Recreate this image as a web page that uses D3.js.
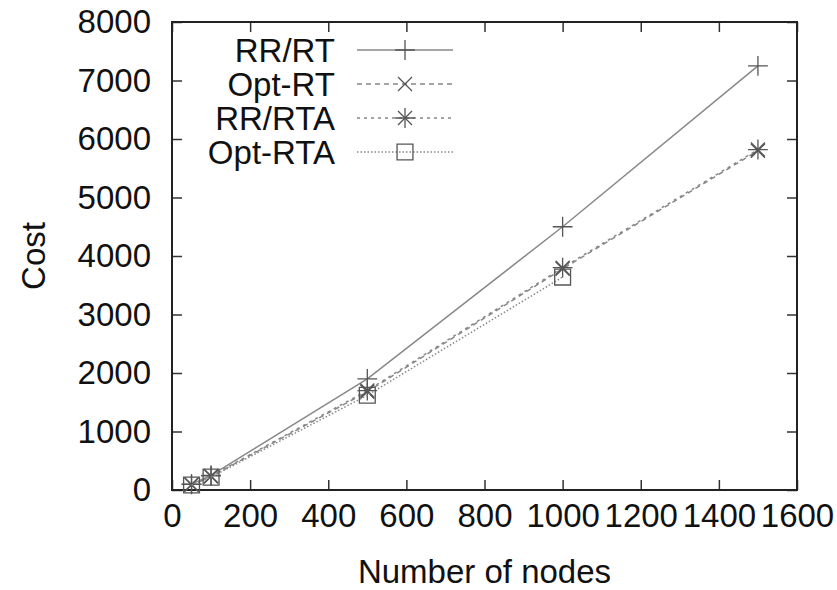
<!DOCTYPE html>
<html>
<head>
<meta charset="utf-8">
<title>Cost vs nodes</title>
<script src="https://cdn.jsdelivr.net/npm/d3@7"></script>
<style>
  body { margin: 0; background: #fff; }
  text { font-family: "Liberation Sans", Arial, Helvetica, sans-serif; fill: #111; }
</style>
</head>
<body>
<svg id="graph" width="837" height="590"></svg>
<script>
// data
var nodes = [50, 100, 500, 1000, 1500]
var rrRT = [100, 250, 1900, 4500, 7250]
var optRT = [90, 230, 1680, 3780, 5800]
var rrRTA = [95, 240, 1700, 3800, 5820]
var optRTA = [85, 220, 1620, 3640]
var seriesNames = ["RR/RT", "Opt-RT", "RR/RTA", "Opt-RTA"]
var xTicks = [0, 200, 400, 600, 800, 1000, 1200, 1400, 1600]
var yTicks = [0, 1000, 2000, 3000, 4000, 5000, 6000, 7000, 8000]

var svg = d3.select("#graph")
var pLeft = 172, pRight = 797, pTop = 22, pBottom = 490

var x = d3.scaleLinear().domain([0, 1600]).range([pLeft, pRight])
var y = d3.scaleLinear().domain([0, 8000]).range([pBottom, pTop])

var series = [
  {name: seriesNames[0], vals: rrRT, dash: null, sym: ["plus"]},
  {name: seriesNames[1], vals: optRT, dash: "5,4", sym: ["times"]},
  {name: seriesNames[2], vals: rrRTA, dash: "3,4", sym: ["plus", "times"]},
  {name: seriesNames[3], vals: optRTA, dash: "1.5,2", sym: ["square"]}
]

var symTypes = {
  plus: d3.symbol().type(d3.symbolPlus).size(130),
  times: d3.symbol().type(d3.symbolTimes).size(130),
  square: d3.symbol().type(d3.symbolSquare2).size(320)
}

// axes: ticks inward, on all four sides
var fontSize = 33
svg.append("g")
  .attr("transform", "translate(0," + pBottom + ")")
  .call(d3.axisBottom(x).tickValues(xTicks).tickSize(-10).tickPadding(14).tickFormat(d3.format("d")))
svg.append("g")
  .attr("transform", "translate(0," + pTop + ")")
  .call(d3.axisTop(x).tickValues(xTicks).tickSize(-10).tickFormat(""))
svg.append("g")
  .attr("transform", "translate(" + pLeft + ",0)")
  .call(d3.axisLeft(y).tickValues(yTicks).tickSize(-10).tickPadding(21).tickFormat(d3.format("d")))
svg.append("g")
  .attr("transform", "translate(" + pRight + ",0)")
  .call(d3.axisRight(y).tickValues(yTicks).tickSize(-10).tickFormat(""))

svg.selectAll(".domain").remove()
svg.selectAll(".tick line").attr("stroke", "#333").attr("stroke-width", 1.5)
svg.selectAll(".tick text").style("font-size", fontSize + "px").attr("fill", "#111")

svg.append("rect")
  .attr("x", pLeft).attr("y", pTop)
  .attr("width", pRight - pLeft).attr("height", pBottom - pTop)
  .attr("fill", "none").attr("stroke", "#222").attr("stroke-width", 2)

// lines + points
var line = d3.line().x(d => x(d[0])).y(d => y(d[1]))
series.forEach(function(s) {
  var pts = s.vals.map((v, i) => [nodes[i], v])
  svg.append("path")
    .attr("d", line(pts))
    .attr("fill", "none")
    .attr("stroke", "#888")
    .attr("stroke-width", 1.5)
    .attr("stroke-dasharray", s.dash)
  s.sym.forEach(function(k) {
    svg.selectAll(null).data(pts).enter().append("path")
      .attr("d", symTypes[k]())
      .attr("transform", d => "translate(" + x(d[0]) + "," + y(d[1]) + ")")
      .attr("fill", "none")
      .attr("stroke", "#555")
      .attr("stroke-width", 1.3)
  })
})

// legend
series.forEach(function(s, i) {
  var ly = 50 + i * 34
  svg.append("text")
    .attr("x", 335).attr("y", ly)
    .attr("text-anchor", "end")
    .attr("dominant-baseline", "central")
    .style("font-size", fontSize + "px")
    .text(s.name)
  svg.append("line")
    .attr("x1", 357).attr("x2", 453).attr("y1", ly).attr("y2", ly)
    .attr("stroke", "#888").attr("stroke-width", 1.5)
    .attr("stroke-dasharray", s.dash)
  s.sym.forEach(function(k) {
    svg.append("path")
      .attr("d", symTypes[k]())
      .attr("transform", "translate(405," + ly + ")")
      .attr("fill", "none").attr("stroke", "#555").attr("stroke-width", 1.3)
  })
})

// axis titles
svg.append("text")
  .attr("x", (pLeft + pRight) / 2).attr("y", 583)
  .attr("text-anchor", "middle")
  .style("font-size", fontSize + "px")
  .text("Number of nodes")
svg.append("text")
  .attr("transform", "translate(45,256) rotate(-90)")
  .attr("text-anchor", "middle")
  .style("font-size", fontSize + "px")
  .text("Cost")
</script>
</body>
</html>
